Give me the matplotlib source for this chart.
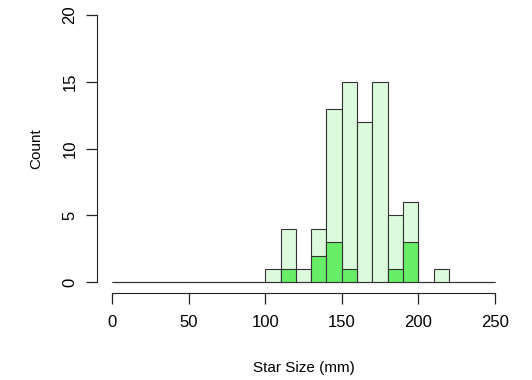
import matplotlib
matplotlib.use("Agg")
import matplotlib.pyplot as plt
import numpy as np

plt.rcParams['font.family'] = ['Liberation Sans', 'DejaVu Sans']

bin_edges = list(range(0, 260, 10))
all_counts = [0, 0, 0, 0, 0, 0, 0, 0, 0, 0, 1, 4, 1, 4, 13, 15, 12, 15, 5, 6, 0, 1, 0, 0, 0]
sub_counts = [0, 0, 0, 0, 0, 0, 0, 0, 0, 0, 0, 1, 0, 2, 3, 1, 0, 0, 1, 3, 0, 0, 0, 0, 0]
x_ticks = [0, 50, 100, 150, 200, 250]
y_ticks = [0, 5, 10, 15, 20]

fig = plt.figure(figsize=(5.32, 3.8), dpi=100)
W, H = 532, 380
ax = fig.add_axes([97 / W, 1 - 293 / H, (510 - 97) / W, (293 - 4.3) / H])

lefts = bin_edges[:-1]
ax.bar(lefts, all_counts, width=10, align='edge', color='#dcfadc', edgecolor='#333333', linewidth=0.8)
ax.bar(lefts, sub_counts, width=10, align='edge', color='#66ee66', edgecolor='#333333', linewidth=0.8)

ax.set_xlim(-10, 260)
ax.set_ylim(-0.8, 20.8)
for s in ['top', 'right']:
    ax.spines[s].set_visible(False)
ax.spines['left'].set_bounds(0, 20)
ax.spines['bottom'].set_bounds(0, 250)
ax.spines['left'].set_color('#222222')
ax.spines['bottom'].set_color('#222222')
ax.set_xticks(x_ticks)
ax.set_yticks(y_ticks)
ax.tick_params(axis='both', length=8, width=0.9, labelsize=12, color='#222222')
ax.tick_params(axis='x', pad=8)
ax.tick_params(axis='y', pad=6)
for lab in ax.get_yticklabels():
    lab.set_rotation(90)
    lab.set_va('center')
ax.set_xlabel('Star Size (mm)', fontsize=11, labelpad=22)
ax.set_ylabel('Count', fontsize=11, labelpad=14)

fig.savefig('out.png', dpi=100)
